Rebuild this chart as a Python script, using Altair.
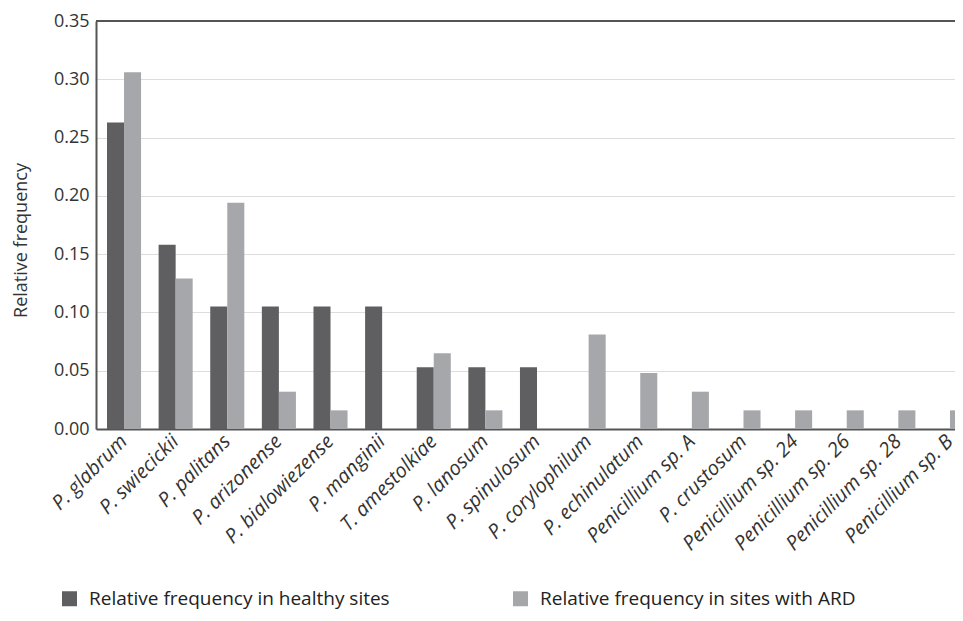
import altair as alt
import pandas as pd

species = ["P. glabrum", "P. swiecickii", "P. palitans", "P. arizonense",
           "P. bialowiezense", "P. manginii", "T. amestolkiae", "P. lanosum",
           "P. spinulosum", "P. corylophilum", "P. echinulatum",
           "Penicillium sp. A", "P. crustosum", "Penicillium sp. 24",
           "Penicillium sp. 26", "Penicillium sp. 28", "Penicillium sp. B"]
healthy = [0.263, 0.158, 0.105, 0.105, 0.105, 0.105, 0.053, 0.053, 0.053,
           0, 0, 0, 0, 0, 0, 0, 0]
ard = [0.306, 0.129, 0.194, 0.032, 0.016, 0, 0.065, 0.016, 0, 0.081, 0.048,
       0.032, 0.016, 0.016, 0.016, 0.016, 0.016]
series_names = ["Relative frequency in healthy sites",
                "Relative frequency in sites with ARD"]
colors = ["#5f5f61", "#a6a7aa"]
y_ticks = [0, 0.05, 0.10, 0.15, 0.20, 0.25, 0.30, 0.35]

rows = []
for i, sp in enumerate(species):
    rows.append({"species": sp, "series": series_names[0], "value": healthy[i]})
    rows.append({"species": sp, "series": series_names[1], "value": ard[i]})
df = pd.DataFrame(rows)

FONT = "Open Sans"

bars = alt.Chart(df).mark_bar().encode(
    x=alt.X("species:N", sort=species,
            scale=alt.Scale(range=[0, 882], paddingInner=0.34, paddingOuter=0.213),
            axis=alt.Axis(title=None, labelAngle=-45, labelAlign="right",
                          labelBaseline="middle", labelFont=FONT,
                          labelFontStyle="italic", labelFontSize=20,
                          labelColor="#333", labelPadding=9, ticks=False,
                          domainColor="#555", domainWidth=2, labelLimit=300)),
    xOffset=alt.XOffset("series:N", sort=series_names,
                        scale=alt.Scale(paddingInner=0, paddingOuter=0)),
    y=alt.Y("value:Q", scale=alt.Scale(domain=[0, 0.35], nice=False),
            axis=alt.Axis(title="Relative frequency", values=y_ticks, format=".2f",
                          ticks=False, labelFont=FONT, labelFontSize=18,
                          labelColor="#333", labelPadding=7,
                          titleFont=FONT, titleFontSize=18, titleFontWeight="normal",
                          titleColor="#333", titleX=-66, titleY=219,
                          titleBaseline="bottom", titleAlign="center", titleAngle=270,
                          gridColor="#dddddd", domainColor="#555", domainWidth=2)),
    color=alt.Color("series:N", sort=series_names,
                    scale=alt.Scale(domain=series_names, range=colors),
                    legend=alt.Legend(title=None, orient="none", legendX=-36,
                                      legendY=568, direction="horizontal",
                                      symbolType="square", symbolSize=225,
                                      symbolStrokeWidth=0, labelFont=FONT,
                                      labelFontSize=19, labelColor="#222",
                                      labelLimit=400, columnPadding=121,
                                      labelOffset=10)),
)

top = alt.Chart(pd.DataFrame({"v": [0.35]})).mark_rule(
    color="#555", strokeWidth=2).encode(y=alt.datum(0.35))

chart = alt.layer(bars, top).properties(
    width=859, height=408,
    autosize=alt.AutoSizeParams(type="none"),
    padding={"left": 88, "top": 13, "right": 0, "bottom": 184},
).configure_view(stroke=None).configure(background="white")

chart.save("out.html", embed_options={"renderer": "svg", "actions": False})
